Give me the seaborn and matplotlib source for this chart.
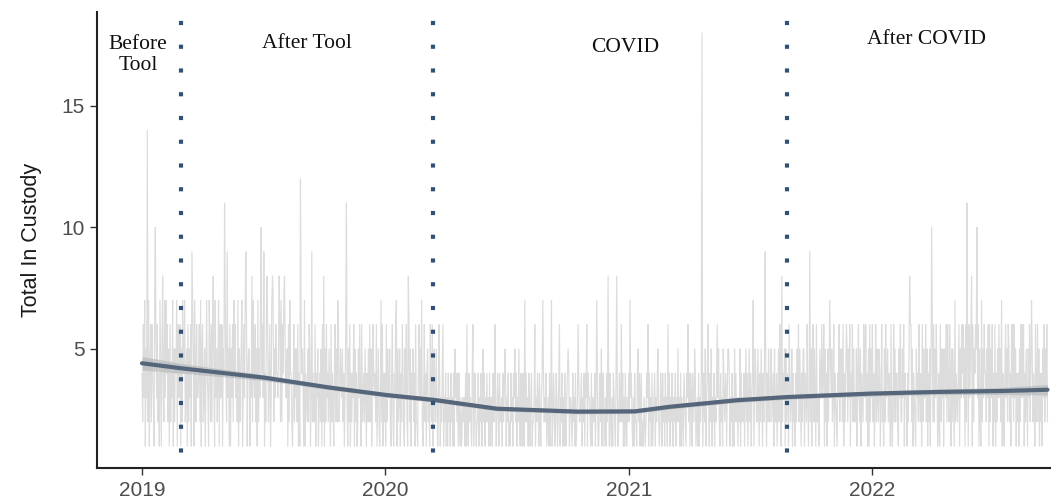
import matplotlib
matplotlib.use("Agg")
import matplotlib.pyplot as plt
import numpy as np
import pandas as pd
import seaborn as sns

# ---------------- data ----------------
start_date = "2019-01-01"

# daily totals, one character per day (groups of 7 days), hand-estimated
daily_text = """
4263715 3527146 2643175 5362417 4157326 3746251 6243715 2547163
3615274 4723516 2536147 5174263 3462715 6235147 4317526 2654173
5247163 3615427 4273516 1536274 6342715 2457136 3726145 5143627
4362517 2537146 3614275 5246137 1725364 4351627 2647153 3516274
4213625 3526141 2645317 1432526 5136242 2614351 3425162 4152634
2531624 3146252 1623543 5241362 3152614 2436152 4125363 1623425
3142526 2513643 4261352 1352614 2416253 3521462 1436215 2351426
4215362 1362514 3524162 2146353 5213624 1452316 3261452 2531264
1324213 2413142 3142314 1234241 4213123 2314132 1423214 3124312
2413241 1324132 4231413 3142213 1243142 2314231 4132412 1423143
3241325 2143142 1324231 4213412 2341324 3142134 1423241 2314135
1243124 3124213 2413142 1342413 3214231 4123142 2341324 1432143
3214132 2413241 1342314 4123142 2314213 1432142 3124231 2413142
1324213 4213142 2143241 3412132 1243214 2314123 4132412 1243142
3142314 2413241 1324132 4231413 2143214 3124143 1432241 2314132
4213425 1342314 2513241 3241352 1423154 2341325 4132413 1524231
3251423 2413524 1352413 4213542 2531425 3142513 1425324 5234152
2413526 3152435 1524316 4235142 3142536 2531425 5143263 1362514
4253162 2315436 3461524 1524253 5236143 2143625 3526142 4152536
1436252 3251463 2514326 5362415 1425362 4136253 2541362 3152634
5243162 1362524 4215362 2536143 3142526 6251432 1534263 2416253
3625142 5143626 2536412 4162535 1453626 3264152 5316243 2461536
4635162 2516346 3162546 5436152 1625364 4253616 2536142 6142536
3526142 1463526 5241636 2635142 4152636 3614253 1536246 5243162
3625142 4153625 362
"""

# tall single-day spikes: day index from start -> value
spike_days = [8, 20, 31, 34, 75, 107, 124, 128, 156, 165, 179, 183, 188, 196,
              206, 214, 238, 255, 273, 294, 307, 359, 382, 400, 420, 452, 470,
              488, 497, 512, 530, 545, 560, 575, 590, 602, 615, 627, 640, 655,
              668, 683, 690, 700, 713, 720, 733, 745, 760, 775, 790, 805, 820,
              830, 841, 850, 864, 880, 918, 936, 961, 1003, 1008, 1033, 1058,
              1093, 1153, 1186, 1221, 1239, 1246, 1254, 1261, 1291, 1336, 1345]
spike_values = [14, 10, 8, 7, 9, 8, 11, 9, 9, 8, 10, 9, 8, 8,
                8, 8, 12, 9, 8, 7, 11, 7, 7, 8, 7, 6, 5,
                6, 6, 5, 6, 5, 5, 7, 6, 7, 7, 6, 5, 6,
                6, 7, 5, 8, 8, 6, 7, 5, 6, 5, 6, 5, 6,
                5, 18, 6, 6, 5, 7, 9, 8, 9, 6, 7, 6,
                6, 8, 10, 7, 11, 8, 10, 7, 7, 7, 6]

# smoothed trend and its confidence half-width
trend_dates = ["2019-01-01", "2019-03-02", "2019-07-03", "2019-10-10",
               "2020-01-04", "2020-03-15", "2020-06-17", "2020-10-15",
               "2021-01-10", "2021-03-04", "2021-06-13", "2021-08-27",
               "2021-12-29", "2022-04-09", "2022-07-17", "2022-09-22"]
trend_values = [4.41, 4.20, 3.82, 3.41, 3.10, 2.90, 2.54, 2.42,
                2.43, 2.62, 2.89, 3.02, 3.16, 3.23, 3.27, 3.32]
trend_halfwidth = [0.28, 0.20, 0.12, 0.09, 0.09, 0.09, 0.09, 0.09,
                   0.09, 0.09, 0.09, 0.09, 0.10, 0.11, 0.15, 0.22]

# period boundaries and labels
boundary_dates = ["2019-03-01", "2020-03-13", "2021-08-27"]
label_texts = ["Before\nTool", "After Tool", "COVID", "After COVID"]
label_dates = ["2018-12-26", "2019-09-06", "2020-12-26", "2022-03-25"]
label_values = [17.1, 17.55, 17.4, 17.75]

year_ticks = ["2019-01-01", "2020-01-01", "2021-01-01", "2022-01-01"]
year_labels = ["2019", "2020", "2021", "2022"]
y_ticks = [5, 10, 15]

# ---------------- build frames ----------------
chars = [c for c in daily_text if c.strip()]
values = np.array([int(c, 36) for c in chars], dtype=float)
for d, v in zip(spike_days, spike_values):
    if d < len(values):
        values[d] = v
dates = pd.date_range(start_date, periods=len(values), freq="D")
daily = pd.DataFrame({"date": dates, "total": values})

trend = pd.DataFrame({"date": pd.to_datetime(trend_dates),
                      "fit": trend_values,
                      "hw": trend_halfwidth})

# ---------------- figure ----------------
sns.set_theme(style="ticks")
plt.rcParams["font.family"] = ["Liberation Sans", "DejaVu Sans"]

W, H = 1051, 503
fig = plt.figure(figsize=(W / 100, H / 100), dpi=100)

px_per_day = 0.6658
pad_days = 67.6
x0 = dates[0] - pd.Timedelta(days=pad_days)
x1 = dates[-1] + pd.Timedelta(days=pad_days)
span_days = (x1 - x0).days + (x1 - x0).seconds / 86400
ylo, yhi = 0.1, 18.85
px_per_unit = 24.3
ax_w = span_days * px_per_day
ax_h = (yhi - ylo) * px_per_unit
ax = fig.add_axes([97 / W, 35 / H, ax_w / W, ax_h / H])

sns.lineplot(data=daily, x="date", y="total", ax=ax, color="#dcdcdc",
             linewidth=0.85, estimator=None, zorder=1)

ax.fill_between(trend["date"], trend["fit"] - trend["hw"],
                trend["fit"] + trend["hw"], color="#a9adb2", alpha=0.5,
                linewidth=0, zorder=2)
sns.lineplot(data=trend, x="date", y="fit", ax=ax, color="#55667a",
             linewidth=3.0, estimator=None, zorder=3)

for bd in boundary_dates:
    ax.axvline(pd.Timestamp(bd), color="#2f5173", linewidth=3.0,
               linestyle=(2, (1, 4.7)), zorder=4)

for txt, ld, lv in zip(label_texts, label_dates, label_values):
    ax.text(pd.Timestamp(ld), lv, txt, ha="center", va="center",
            fontsize=15.5, family=["Liberation Serif", "DejaVu Serif"],
            color="#111111", linespacing=1.1, zorder=5)

ax.set_xlim(x0, x1)
ax.set_ylim(ylo, yhi)
ax.set_xticks(pd.to_datetime(year_ticks))
ax.set_xticklabels(year_labels)
ax.set_yticks(y_ticks)
ax.set_yticklabels([str(t) for t in y_ticks])

ax.set_xlabel("")
ax.set_ylabel("Total In Custody", fontsize=15.5, color="#1a1a1a", labelpad=14)
ax.tick_params(axis="both", labelsize=15, labelcolor="#4d4d4d", length=5,
               width=1.0, pad=4, color="#333333")

sns.despine(ax=ax, top=True, right=True)
for s in ["left", "bottom"]:
    ax.spines[s].set_color("#222222")
    ax.spines[s].set_linewidth(1.5)
ax.grid(False)
ax.set_facecolor("white")
fig.patch.set_facecolor("white")

fig.savefig("out.png", dpi=100, facecolor="white")
